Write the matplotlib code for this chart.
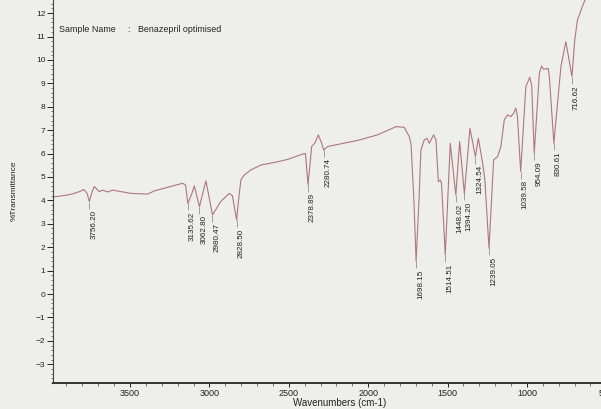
import matplotlib
matplotlib.use('Agg')
import matplotlib.pyplot as plt
from matplotlib.ticker import MultipleLocator
import numpy as np

plt.rcParams['font.family'] = ['Liberation Sans', 'DejaVu Sans']

# Spectrum (wavenumber cm-1, %T)
wavenumber = [4000, 3893, 3850, 3809, 3792, 3770, 3756.20, 3740, 3725, 3693,
              3672, 3641, 3609, 3496, 3389, 3345, 3263, 3169, 3150, 3135.62,
              3110, 3095, 3062.80, 3022, 2980.47, 2929, 2875, 2855, 2828.50,
              2818, 2802, 2780, 2739, 2676, 2570, 2507, 2413, 2395, 2378.89,
              2356, 2336, 2314, 2293, 2280.74, 2256, 2056, 1941, 1825, 1773,
              1741, 1730, 1712, 1698.15, 1680, 1668, 1647, 1630, 1615, 1588,
              1573, 1558, 1546, 1538, 1514.51, 1483, 1448.02, 1424, 1394.20,
              1359, 1324.54, 1306, 1279, 1265, 1239.05, 1210, 1185, 1164,
              1143, 1122, 1101, 1084, 1070, 1060, 1039.58, 1007, 982, 970,
              954.09, 922, 908, 895, 866, 858, 830.61, 786, 755, 740, 716.62,
              699, 682, 650, 620]
transmittance = [4.13, 4.23, 4.30, 4.40, 4.47, 4.30, 3.95, 4.35, 4.59, 4.37,
                 4.44, 4.36, 4.44, 4.30, 4.27, 4.41, 4.56, 4.73, 4.66, 3.87,
                 4.30, 4.62, 3.73, 4.84, 3.38, 3.95, 4.30, 4.20, 3.16,
                 3.90, 4.87, 5.09, 5.30, 5.51, 5.65, 5.75, 5.98, 6.00, 4.66,
                 6.30, 6.44, 6.80, 6.44, 6.15, 6.30, 6.58, 6.80, 7.15, 7.12,
                 6.72, 6.40, 4.00, 1.40, 4.00, 6.15, 6.58, 6.65, 6.44, 6.80,
                 6.58, 4.80, 4.87, 4.73, 1.67, 6.44, 4.23, 6.51, 4.30,
                 7.08, 5.87, 6.65, 5.58, 4.87, 1.95, 5.73, 5.87, 6.30,
                 7.44, 7.65, 7.58, 7.72, 7.94, 7.60, 5.23, 8.86, 9.26, 8.90,
                 6.01, 9.43, 9.74, 9.60, 9.64, 9.20, 6.44, 9.72, 10.78, 10.20, 9.29,
                 10.85, 11.70, 12.30, 12.80]

peaks = [3756.20, 3135.62, 3062.80, 2980.47, 2828.50, 2378.89, 2280.74,
         1698.15, 1514.51, 1448.02, 1394.20, 1324.54, 1239.05, 1039.58,
         954.09, 830.61, 716.62]

line_color = '#ad777c'
bg = '#eeeeec'

fig = plt.figure(figsize=(6.01, 4.09), dpi=100, facecolor=bg)
# axes run a little past the right edge, like the cropped scan
ax = fig.add_axes([53 / 601, 26 / 409, 567 / 601, 383 / 409], facecolor=bg)

ax.plot(wavenumber, transmittance, color=line_color, lw=0.8)

# peak labels under each dip
w_inc = np.array(wavenumber[::-1])
t_inc = np.array(transmittance[::-1])
for p in peaks:
    d = np.interp(p, w_inc, t_inc)
    ax.vlines(p, d - 0.3, d, color='#8a7a7c', lw=0.5)
    ax.annotate(f'{p:.2f}', xy=(p, d - 0.3), xytext=(3.2, -1),
                textcoords='offset points', rotation=90,
                ha='center', va='top', fontsize=5.8, color='#222222')

ax.set_xlim(3985, 414)
ax.set_ylim(-3.8, 12.56)
ax.set_xticks([3500, 3000, 2500, 2000, 1500, 1000, 500])
ax.set_yticks(range(-3, 13))
ax.xaxis.set_minor_locator(MultipleLocator(100))
ax.yaxis.set_minor_locator(MultipleLocator(0.2))
ax.tick_params(axis='x', which='major', length=3, width=0.7, labelsize=6.5,
               pad=1.2, colors='#222222')
ax.tick_params(axis='y', which='major', length=4, width=0.7, labelsize=6,
               pad=1.5, colors='#222222')
ax.tick_params(which='minor', length=1.8, width=0.5, colors='#444444')

for s in ['top', 'right']:
    ax.spines[s].set_visible(False)
ax.spines['bottom'].set_linewidth(1.4)
ax.spines['bottom'].set_color('#333333')
ax.spines['left'].set_linewidth(0.8)
ax.spines['left'].set_color('#444444')

fig.text(14 / 601, 1 - 191 / 409, '%Transmittance', rotation=90,
         ha='center', va='center', fontsize=6, color='#222222')
fig.text(340 / 601, 1 - 403 / 409, 'Wavenumbers (cm-1)',
         ha='center', va='center', fontsize=7, color='#222222')

fig.text(59 / 601, 1 - 30 / 409, 'Sample Name', fontsize=6.4,
         va='center', color='#222222')
fig.text(127 / 601, 1 - 30 / 409, ':', fontsize=6.4, va='center',
         color='#222222')
fig.text(138 / 601, 1 - 30 / 409, 'Benazepril optimised', fontsize=6.4,
         va='center', color='#222222')

fig.savefig('out.png', dpi=100, facecolor=bg)
